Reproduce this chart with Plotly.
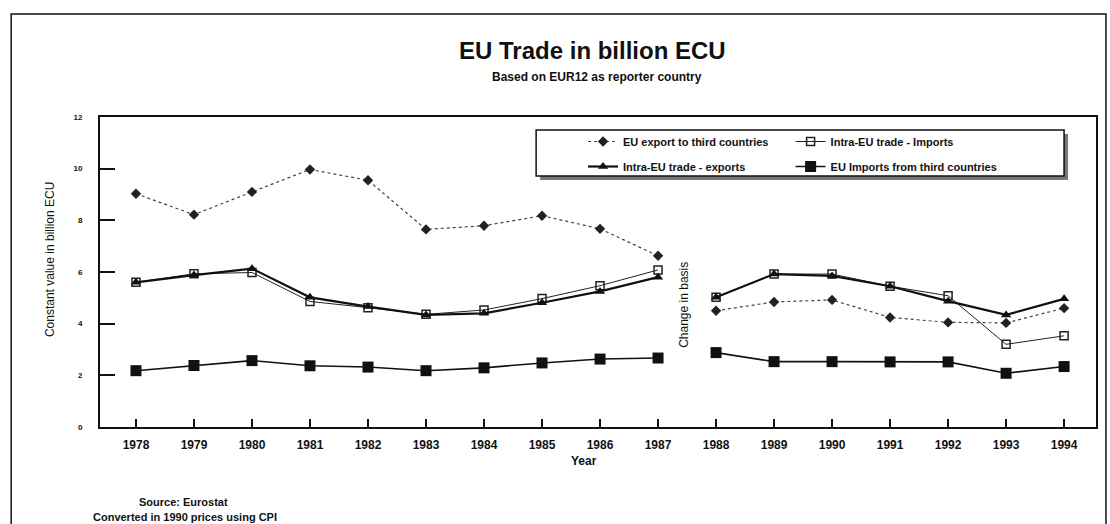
import plotly.graph_objects as go

years = [1978, 1979, 1980, 1981, 1982, 1983, 1984, 1985, 1986, 1987,
         1988, 1989, 1990, 1991, 1992, 1993, 1994]
break_after = 1987

export_third = [9.03, 8.22, 9.1, 9.97, 9.55, 7.65, 7.79, 8.18, 7.67, 6.63,
                4.5, 4.84, 4.92, 4.24, 4.05, 4.03, 4.6]
intra_imports = [5.6, 5.93, 5.98, 4.86, 4.62, 4.36, 4.53, 4.97, 5.47, 6.08,
                 5.02, 5.92, 5.92, 5.45, 5.08, 3.2, 3.53]
intra_exports = [5.6, 5.88, 6.13, 5.02, 4.66, 4.34, 4.4, 4.81, 5.25, 5.8,
                 5.02, 5.92, 5.85, 5.45, 4.87, 4.34, 4.96]
imports_third = [2.18, 2.38, 2.57, 2.37, 2.32, 2.18, 2.29, 2.48, 2.63, 2.67,
                 2.88, 2.53, 2.53, 2.52, 2.52, 2.08, 2.34]

names = ["EU export to third countries", "Intra-EU trade - Imports",
         "Intra-EU trade - exports", "EU Imports from third countries"]

W, H = 1110, 524
L, R, T, B = 100, 12, 117, 97
PW, PH = W - L - R, H - T - B


def px(x):
    return (x - L) / PW


def py(y):
    return (H - B - y) / PH


def with_break(xs, ys):
    ox, oy = [], []
    for x, y in zip(xs, ys):
        ox.append(x)
        oy.append(y)
        if x == break_after:
            ox.append(None)
            oy.append(None)
    return ox, oy


FONT = "Liberation Sans"
fig = go.Figure()

styles = [
    dict(line=dict(color="#444", width=1.2, dash="dot"),
         marker=dict(symbol="diamond", size=8, color="#222"), legend="legend"),
    dict(line=dict(color="#222", width=1),
         marker=dict(symbol="square-open", size=8, color="#222", line=dict(width=1.5)), legend="legend2"),
    dict(line=dict(color="#111", width=2.2),
         marker=dict(symbol="triangle-up", size=9, color="#111"), legend="legend"),
    dict(line=dict(color="#111", width=1.6),
         marker=dict(symbol="square", size=11, color="#111"), legend="legend2"),
]
series = [export_third, intra_imports, intra_exports, imports_third]

for name, vals, st in zip(names, series, styles):
    x, y = with_break(years, vals)
    fig.add_trace(go.Scatter(x=x, y=y, name=name, mode="lines+markers",
                             line=st["line"], marker=st["marker"],
                             legend=st["legend"], connectgaps=False,
                             legendgroup=name))

legend_common = dict(bgcolor="rgba(0,0,0,0)", borderwidth=0,
                     font=dict(family=FONT, size=11, color="#111", weight="bold"),
                     traceorder="grouped", tracegroupgap=6,
                     xanchor="left", yanchor="top", itemwidth=30)

fig.update_layout(
    width=W, height=H,
    margin=dict(l=L, r=R, t=T, b=B),
    paper_bgcolor="white", plot_bgcolor="white",
    showlegend=True,
    legend=dict(x=px(584), y=py(127), **legend_common),
    legend2=dict(x=px(792), y=py(127), **legend_common),
    xaxis=dict(range=[1977.38, 1994.55], tickvals=years,
               ticks="inside", ticklen=8, tickwidth=1.5, tickcolor="#111",
               ticklabelstandoff=6,
               showgrid=False, zeroline=False,
               showline=True, linecolor="#111", linewidth=2, mirror=True,
               tickfont=dict(family=FONT, size=12, color="#111", weight="bold")),
    yaxis=dict(range=[0, 12], dtick=2, ticks="inside", ticklen=15,
               tickwidth=1.5, tickcolor="#111", ticklabelstandoff=14,
               showgrid=False, zeroline=False,
               showline=True, linecolor="#111", linewidth=2, mirror=True,
               tickfont=dict(family=FONT, size=8, color="#111", weight="bold")),
)

shapes = [
    # outer frame
    dict(type="rect", xref="paper", yref="paper", x0=px(11), x1=px(1108),
         y0=py(540), y1=py(14), line=dict(color="#111", width=1.5),
         fillcolor="rgba(0,0,0,0)", layer="above"),
    # legend shadow
    dict(type="rect", xref="paper", yref="paper", x0=px(541), x1=px(1070),
         y0=py(180), y1=py(134), line=dict(width=0),
         fillcolor="#777", layer="above"),
    # legend box
    dict(type="rect", xref="paper", yref="paper", x0=px(537), x1=px(1066),
         y0=py(176), y1=py(130), line=dict(color="#111", width=1.5),
         fillcolor="white", layer="above"),
]
fig.update_layout(shapes=shapes)

annotations = [
    dict(text="<b>EU Trade in billion ECU</b>", x=px(593), y=py(50),
         font=dict(family=FONT, size=24, color="#111")),
    dict(text="<b>Based on EUR12 as reporter country</b>", x=px(598), y=py(77),
         font=dict(family=FONT, size=12, color="#111")),
    dict(text="Constant value in billion ECU", x=px(50), y=py(260), textangle=-90,
         font=dict(family=FONT, size=12, color="#111")),
    dict(text="<b>Year</b>", x=px(585), y=py(461),
         font=dict(family=FONT, size=12, color="#111")),
    dict(text="Change in basis", x=px(685), y=py(305), textangle=-90,
         font=dict(family=FONT, size=12, color="#111")),
    dict(text="<b>Source: Eurostat</b>", x=px(184), y=py(502),
         font=dict(family=FONT, size=11, color="#111")),
    dict(text="<b>Converted in 1990 prices using CPI</b>", x=px(185), y=py(517),
         font=dict(family=FONT, size=11, color="#111")),
]
for a in annotations:
    a.update(xref="paper", yref="paper", showarrow=False,
             xanchor="center", yanchor="middle")
fig.update_layout(annotations=annotations)

fig.write_html("out.html")
